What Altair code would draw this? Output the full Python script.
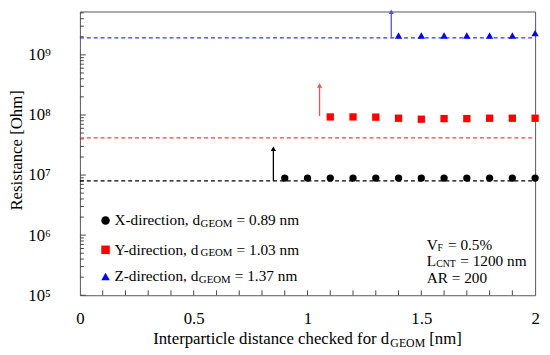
import altair as alt
import pandas as pd

# ---------------- data ----------------
X_DIST = [0.9, 1.0, 1.1, 1.2, 1.3, 1.4, 1.5, 1.6, 1.7, 1.8, 1.9, 2.0]
X_RES = [8.9e6, 8.9e6, 8.9e6, 8.9e6, 8.9e6, 8.9e6, 8.9e6, 8.9e6, 8.9e6, 8.9e6, 8.9e6, 8.9e6]
Y_DIST = [1.1, 1.2, 1.3, 1.4, 1.5, 1.6, 1.7, 1.8, 1.9, 2.0]
Y_RES = [9.27e7, 9.27e7, 9.2e7, 8.83e7, 8.5e7, 8.7e7, 8.7e7, 8.83e7, 8.83e7, 8.83e7]
Z_DIST = [1.4, 1.5, 1.6, 1.7, 1.8, 1.9, 2.0]
Z_RES = [2.1e9, 2.1e9, 2.1e9, 2.1e9, 2.1e9, 2.1e9, 2.3e9]

BASE_RES = [8.0e6, 4.15e7, 1.92e9]          # dashed reference levels X, Y, Z
ARROW_X = [0.85, 1.053, 1.368]
ARROW_Y0 = [8.0e6, 9.6e7, 1.92e9]
ARROW_Y1 = [2.74e7, 3.1e8, 5.2e9]

X_MIN, X_MAX = 0.0, 2.0
Y_MIN, Y_MAX = 1e5, 5.27e9
X_LABELS = [0, 0.5, 1, 1.5, 2]
X_TICKS = [round(0.1 * i, 1) for i in range(1, 20)]
Y_LABELS = [1e5, 1e6, 1e7, 1e8, 1e9]
SUP = {5: "⁵", 6: "⁶", 7: "⁷", 8: "⁸", 9: "⁹"}

LEG_TEXT = ["X-direction, d", "Y-direction, d", "Z-direction, d"]
LEG_VAL = ["= 0.89 nm", "= 1.03 nm", "= 1.37 nm"]
LEG_Y = [1.75e6, 5.7e5, 2.05e5]
LEG_SYM_X = 0.1126
LEG_TXT_X = 0.1515
INFO_X = 1.524
INFO_Y = [6.75e5, 3.65e5, 1.95e5]
XT_TEXT = ["Interparticle distance checked for d", "GEOM", "[nm]"]
YT_TEXT = "Resistance [Ohm]"

W, H = 462, 288
SERIF = "Liberation Serif"
BLACK, RED, BLUE = "#000000", "#ff0000", "#0000ff"
LRED, LBLUE = "#ff3b3b", "#3333ff"

xs = alt.Scale(domain=[X_MIN, X_MAX], nice=False, zero=False)
ys = alt.Scale(type="log", domain=[Y_MIN, Y_MAX], nice=False)

label_expr = " : ".join(
    f"datum.value == {v:.0e} ? '10{SUP[i]}'" for i, v in zip(range(5, 10), Y_LABELS)
) + " : ''"

AX_X = alt.Axis(values=X_LABELS, ticks=False, domain=False, grid=False, title=None,
                labelFont=SERIF, labelFontSize=17, labelColor="#000", labelPadding=16,
                labelExpr="datum.value == 0 ? '0' : format(datum.value, '~g')",
                labelFlush=False)
AX_Y = alt.Axis(values=Y_LABELS, ticks=False, domain=False, grid=False, title=None,
                labelFont=SERIF, labelFontSize=17, labelColor="#000", labelPadding=30,
                labelExpr=label_expr)


def X(field):
    return alt.X(field, scale=xs, axis=AX_X)


def Y(field):
    return alt.Y(field, scale=ys, axis=AX_Y)


# ---------------- frame ticks (inward) ----------------
y_major = [float(v) for v in Y_LABELS]
y_minor = [float(k * 10 ** d) for d in range(5, 10) for k in range(2, 10) if k * 10 ** d <= Y_MAX]

xtick_layer = alt.Chart(pd.DataFrame({"v": X_TICKS})).mark_rule(
    color="#444", strokeWidth=1).encode(x=X("v:Q"), y=alt.value(H), y2=alt.value(H - 5))
ymaj_layer = alt.Chart(pd.DataFrame({"v": y_major})).mark_rule(
    color="#444", strokeWidth=1).encode(y=Y("v:Q"), x=alt.value(0), x2=alt.value(6))
ymin_layer = alt.Chart(pd.DataFrame({"v": y_minor})).mark_rule(
    color="#444", strokeWidth=1).encode(y=Y("v:Q"), x=alt.value(0), x2=alt.value(4))

# ---------------- dashed reference lines ----------------
base_df = pd.DataFrame({"x0": [X_MIN] * 3, "x1": [X_MAX] * 3, "y": BASE_RES,
                        "s": ["X", "Y", "Z"]})
cmap = alt.Scale(domain=["X", "Y", "Z"], range=[BLACK, LRED, LBLUE])
dash = alt.Chart(base_df).mark_rule(strokeDash=[4, 3], strokeWidth=1.2).encode(
    x=X("x0:Q"), x2="x1:Q", y=Y("y:Q"),
    color=alt.Color("s:N", scale=cmap, legend=None),
)

# ---------------- arrows ----------------
arr_df = pd.DataFrame({"x": ARROW_X, "y0": ARROW_Y0, "y1": ARROW_Y1, "s": ["X", "Y", "Z"]})
amap = alt.Scale(domain=["X", "Y", "Z"], range=[BLACK, "#ff4d4d", "#4d4dff"])
arrow_shaft = alt.Chart(arr_df).mark_rule(strokeWidth=1.3).encode(
    x=X("x:Q"), y=Y("y0:Q"), y2="y1:Q",
    color=alt.Color("s:N", scale=amap, legend=None),
)
arrow_head = alt.Chart(arr_df).mark_point(shape="triangle-up", filled=True, size=28,
                                          opacity=1).encode(
    x=X("x:Q"), y=Y("y1:Q"),
    color=alt.Color("s:N", scale=amap, legend=None),
)


# ---------------- data series ----------------
def series(xv, yv, shape, color, size):
    df = pd.DataFrame({"x": xv, "y": yv})
    return alt.Chart(df).mark_point(shape=shape, filled=True, size=size, color=color,
                                    opacity=1).encode(x=X("x:Q"), y=Y("y:Q"))


sx = series(X_DIST, X_RES, "circle", BLACK, 55)
sy = series(Y_DIST, Y_RES, "square", RED, 55)
sz = series(Z_DIST, Z_RES, "triangle-up", BLUE, 55)

# ---------------- legend (manual, with subscripts) ----------------
leg_sym = pd.DataFrame({"x": [LEG_SYM_X] * 3, "y": LEG_Y, "s": ["X", "Y", "Z"]})
smap = alt.Scale(domain=["X", "Y", "Z"], range=[BLACK, RED, BLUE])
shp = alt.Scale(domain=["X", "Y", "Z"], range=["circle", "square", "triangle-up"])
legend_syms = alt.Chart(leg_sym).mark_point(filled=True, opacity=1, size=75).encode(
    x=X("x:Q"), y=Y("y:Q"),
    color=alt.Color("s:N", scale=smap, legend=None),
    shape=alt.Shape("s:N", scale=shp, legend=None),
)

pieces = []
main_w = [87.0, 87.0, 85.2]
for t, v, yv, mw in zip(LEG_TEXT, LEG_VAL, LEG_Y, main_w):
    pieces.append((t, LEG_TXT_X, yv, 0, 0, 15.5))
    pieces.append(("GEOM", LEG_TXT_X, yv, mw + 0.5, 3.5, 11))
    pieces.append((v, LEG_TXT_X, yv, mw + 37, 0, 15.5))
pieces += [
    ("V", INFO_X, INFO_Y[0], 0, 0, 15.5),
    ("F", INFO_X, INFO_Y[0], 11, 2.5, 10),
    ("= 0.5%", INFO_X, INFO_Y[0], 21.5, 0, 15.5),
    ("L", INFO_X, INFO_Y[1], 0, 0, 15.5),
    ("CNT", INFO_X, INFO_Y[1], 9.5, 2.5, 10),
    ("= 1200 nm", INFO_X, INFO_Y[1], 34, 0, 15.5),
    ("AR = 200", INFO_X, INFO_Y[2], 0, 0, 15.5),
]
text_layers = []
for t, xv, yv, dx, dy, fs in pieces:
    df = pd.DataFrame({"t": [t], "x": [xv], "y": [yv]})
    text_layers.append(
        alt.Chart(df).mark_text(align="left", baseline="middle", font=SERIF, color="#000",
                                fontSize=fs, dx=dx, dy=dy).encode(
            x=X("x:Q"), y=Y("y:Q"), text="t:N")
    )

# ---------------- axis titles (with subscript) ----------------
xt_specs = [(XT_TEXT[0], -156.7, 0, 17), (XT_TEXT[1], 84.1, 4, 12), (XT_TEXT[2], 123.6, 0, 17)]
for t, dx, dy, fs in xt_specs:
    df = pd.DataFrame({"t": [t], "x": [(X_MIN + X_MAX) / 2]})
    text_layers.append(
        alt.Chart(df).mark_text(align="left", baseline="alphabetic", font=SERIF,
                                color="#000", fontSize=fs, dx=dx, dy=dy).encode(
            x=X("x:Q"), y=alt.value(H + 49), text="t:N")
    )
ytitle = alt.Chart(pd.DataFrame({"t": [YT_TEXT]})).mark_text(
    angle=270, align="center", baseline="middle", font=SERIF, fontSize=17,
    color="#000").encode(x=alt.value(-64), y=alt.value(H / 2 - 3), text="t:N")

chart = alt.layer(
    xtick_layer, ymaj_layer, ymin_layer, dash, arrow_shaft, arrow_head, sx, sy, sz,
    legend_syms, *text_layers, ytitle,
).resolve_scale(color="independent", shape="independent").properties(
    width=W, height=H,
    padding={"left": 73, "top": 1, "right": 7, "bottom": 52},
    autosize=alt.AutoSizeParams(type="none"),
    background="white",
).configure_view(stroke="#555", strokeWidth=1)

chart.save("out.html", embed_options={"renderer": "svg", "actions": False})
